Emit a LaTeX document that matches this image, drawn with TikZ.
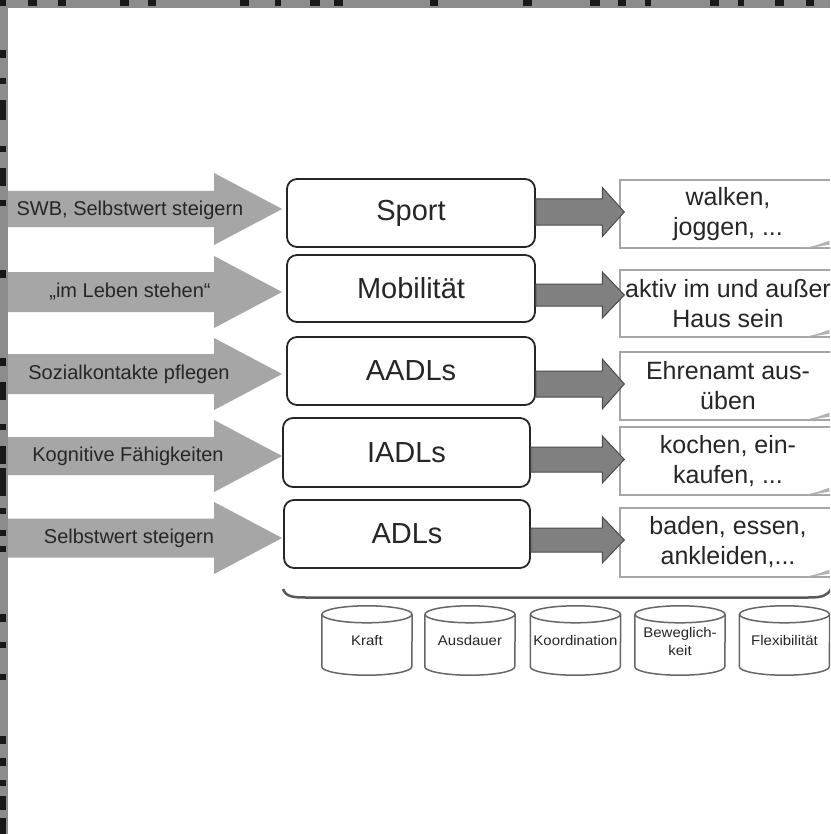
\documentclass[tikz,border=0pt]{standalone}
\usepackage{fontspec}
\setmainfont{Liberation Sans}
\usetikzlibrary{calc}
\newcommand\fatarrow[6]{%
  \path[#1] let \p1=(#2), \p2=(#3) in
    (\x1,\y1+#4pt) -- (\x2-#6pt,\y1+#4pt) -- (\x2-#6pt,\y1+#5pt) -- (\x2,\y1)
    -- (\x2-#6pt,\y1-#5pt) -- (\x2-#6pt,\y1-#4pt) -- (\x1,\y1-#4pt) -- cycle;}
\newcommand\cyl[3]{%
  \node[cyltext] (#1) at (#2,640.5) {#3};
  \draw[cylline] ($(#1.north west)+(0,8.5)$) -- ($(#1.south west)+(0,-8.5)$)
    arc[start angle=180,end angle=360,x radius=45pt,y radius=8.5pt]
    -- ($(#1.north east)+(0,8.5)$);
  \draw[cylline] ($(#1.north)+(0,8.5)$) ellipse[x radius=45pt,y radius=8.5pt];}
\newcommand\curl[1]{%
  \fill[black!30] ($(#1.south west)+(186,-1)$) .. controls ($(#1.south west)+(196,-3)$) .. ($(#1.south west)+(210,-8)$)
    -- ($(#1.south west)+(210,-4)$) .. controls ($(#1.south west)+(198,-2)$) .. ($(#1.south west)+(190,-1)$) -- cycle;}
\begin{document}
\begin{tikzpicture}[x=1pt,y=-1pt,
  midbox/.style={draw=black!85,line width=1.8pt,rounded corners=10pt,fill=white,
    minimum width=248pt,minimum height=68pt,text=black!85,font=\fontsize{29}{34}\selectfont},
  rbox/.style={draw=black!35,line width=1.4pt,fill=white,minimum width=216pt,
    minimum height=68pt,align=center,text=black!85,font=\fontsize{25}{30}\selectfont},
  ltext/.style={text=black!85,font=\fontsize{20}{24}\selectfont},
  larrow/.style={fill=black!35},
  rarrow/.style={fill=black!50,draw=black!70,line width=1pt},
  cylline/.style={draw=black!60,line width=1.5pt},
  cyltext/.style={minimum width=90pt,minimum height=69pt,inner sep=0pt,align=center,
    text=black!85,font=\fontsize{14}{19}\selectfont},
  bracel/.style={draw=black!65,line width=2.5pt},
  strip/.style={fill=black!45},
  blackmark/.style={fill=black!90}]
\useasboundingbox (0,0) rectangle (830,834);
\clip (0,0) rectangle (830,834);
\fill[white] (0,0) rectangle (830,834);

% middle boxes
\node[midbox] (s1) at (411,213) {Sport};
\node[midbox,minimum height=67pt] (s2) at (411,288.5) {Mobilität};
\node[midbox] (s3) at (411,371) {AADLs};
\node[midbox,minimum width=247pt,minimum height=69pt] (s4) at (406.5,452.5) {IADLs};
\node[midbox,minimum width=246pt] (s5) at (407,534) {ADLs};

% right boxes
\node[rbox] (r1) at (728,214) {walken,\\joggen, ...};
\node[rbox,minimum height=67pt] (r2) at (728,303.5) {aktiv im und außer\\Haus sein};
\node[rbox] (r3) at (728,386) {Ehrenamt aus-\\üben};
\node[rbox] (r4) at (728,461) {kochen, ein-\\kaufen, ...};
\node[rbox,minimum height=69pt] (r5) at (728,542.5) {baden, essen,\\ankleiden,...};
\curl{r1}\curl{r2}\curl{r3}\curl{r4}\curl{r5}

% left arrows
\coordinate (la1) at (-5,209);
\coordinate (la2) at (-5,292);
\coordinate (la3) at (-5,374);
\coordinate (la4) at (-5,456);
\coordinate (la5) at (-5,538);
\fatarrow{larrow}{la1}{$(s1.west)+(-4,0)$}{18}{36}{68}
\fatarrow{larrow}{la2}{$(s2.west)+(-4,0)$}{20}{36}{68}
\fatarrow{larrow}{la3}{$(s3.west)+(-4,0)$}{20}{36}{68}
\fatarrow{larrow}{la4}{$(s4.west)+(0,0)$}{19}{36}{68}
\fatarrow{larrow}{la5}{$(s5.west)+(-1,0)$}{19.5}{36}{68}
\node[ltext] (l1) at (130,210) {SWB, Selbstwert steigern};
\node[ltext] (l2) at (130,292) {„im Leben stehen“};
\node[ltext] (l3) at (129,374) {Sozialkontakte pflegen};
\node[ltext] (l4) at (128,456) {Kognitive Fähigkeiten};
\node[ltext] (l5) at (129,538) {Selbstwert steigern};

% right arrows
\fatarrow{rarrow}{$(s1.east)+(0,-1)$}{$(r1.west)+(5,0)$}{13}{24.5}{22}
\fatarrow{rarrow}{$(s2.east)+(0,6.5)$}{$(r2.west)+(5,0)$}{11}{23}{22}
\fatarrow{rarrow}{$(s3.east)+(0,13)$}{$(r3.west)+(5,0)$}{13}{25}{22}
\fatarrow{rarrow}{$(s4.east)+(0,7)$}{$(r4.west)+(5,0)$}{12.5}{23.5}{22}
\fatarrow{rarrow}{$(s5.east)+(0,6)$}{$(r5.west)+(5,0)$}{12}{23}{22}

% brace
\draw[bracel] (283,589) .. controls (286,596.5) and (292,597.5) .. (306,597.5)
  -- (808,597.5) .. controls (822,597.5) and (827,596) .. (831,589);

% cylinders
\cyl{c1}{367}{\scalebox{1.07}[1]{Kraft}}
\cyl{c2}{470}{\scalebox{1.07}[1]{Ausdauer}}
\cyl{c3}{575.5}{\scalebox{1.07}[1]{Koordination}}
\cyl{c4}{680}{\scalebox{1.07}[1]{\begin{tabular}{@{}c@{}}\rule{0pt}{18pt}Beweglich-\\[-1pt]keit\end{tabular}}}
\cyl{c5}{784.5}{\scalebox{1.07}[1]{Flexibilität}}

% frame strips
\fill[strip] (0,0) rectangle (830,8);
\fill[strip] (0,0) rectangle (8,834);
\foreach \x/\w in {28/9,58/8,120/9,148/8,240/9,275/6,310/10,334/9,430/8,523/9,590/10,618/8,645/6,710/9,738/6,775/9,806/8}
  \fill[blackmark] (\x,0) rectangle ++(\w,6);
\foreach \y/\h in {0/6,50/8,78/6,100/20,146/6,168/18,200/6,270/8,358/8,382/18,424/6,446/18,468/28,508/6,530/6,546/6,614/8,642/6,674/6,736/8,758/8,780/6,796/14,818/16}
  \fill[blackmark] (0,\y) rectangle ++(6,\h);
\end{tikzpicture}
\end{document}
